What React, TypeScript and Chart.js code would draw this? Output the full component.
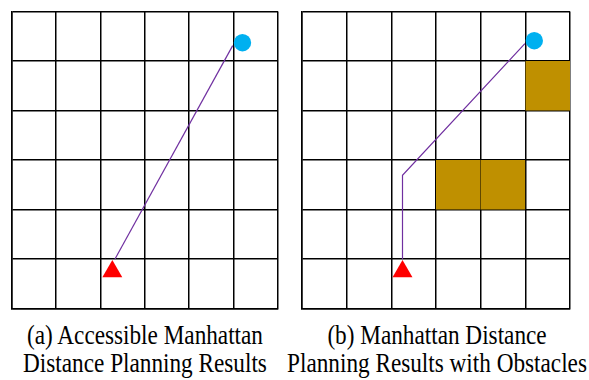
import React, { useEffect, useRef } from "react";
import { Chart, registerables } from "chart.js";

Chart.register(...registerables);

// Grid tick values (6 x 6 cells)
const gridTicks = [0, 1, 2, 3, 4, 5, 6];

// (a) Accessible Manhattan distance planning
const pathAX = [2.33, 4.98];
const pathAY = [1.0, 5.31];
const startA = [2.27, 0.75];
const goalA = [5.2, 5.37];

// (b) Manhattan distance planning with obstacles
const pathBX = [2.25, 2.25, 4.99];
const pathBY = [1.0, 2.69, 5.35];
const startB = [2.25, 0.75];
const goalB = [5.2, 5.41];
// obstacle cells: lower-left corner (column, row)
const obstacleCol = [5, 3, 4];
const obstacleRow = [4, 2, 2];

const captionA = ["(a) Accessible Manhattan", "Distance Planning Results"];
const captionB = ["(b) Manhattan Distance", "Planning Results with Obstacles"];

const PATH_COLOR = "#7030A0";
const START_COLOR = "#FF0000";
const GOAL_COLOR = "#00B0F0";
const OBSTACLE_COLOR = "#BF9000";

function buildDatasets(px: number[], py: number[], start: number[], goal: number[], withObstacles: boolean) {
  const ds: any[] = [];
  if (withObstacles) {
    obstacleCol.forEach((c, i) => {
      const r = obstacleRow[i];
      ds.push({
        data: [
          { x: c, y: r + 1 },
          { x: c + 1, y: r + 1 },
        ],
        fill: { value: r },
        backgroundColor: OBSTACLE_COLOR,
        borderWidth: 0,
        borderColor: "rgba(0,0,0,0)",
        pointRadius: 0,
        tension: 0,
      });
    });
  }
  ds.push({
    data: px.map((x, i) => ({ x, y: py[i] })),
    borderColor: PATH_COLOR,
    borderWidth: 1.2,
    pointRadius: 0,
    fill: false,
    tension: 0,
  });
  ds.push({
    data: [{ x: start[0], y: start[1] }],
    showLine: false,
    pointStyle: "triangle",
    pointRadius: 11.5,
    pointBackgroundColor: START_COLOR,
    pointBorderWidth: 0,
    pointBorderColor: START_COLOR,
  });
  ds.push({
    data: [{ x: goal[0], y: goal[1] }],
    showLine: false,
    pointStyle: "circle",
    pointRadius: 8.7,
    pointBackgroundColor: GOAL_COLOR,
    pointBorderWidth: 0,
    pointBorderColor: GOAL_COLOR,
  });
  return ds;
}

function axis() {
  return {
    type: "linear" as const,
    min: gridTicks[0],
    max: gridTicks[gridTicks.length - 1],
    z: 1,
    afterBuildTicks: (scale: any) => {
      scale.ticks = gridTicks.map((v) => ({ value: v }));
    },
    ticks: { display: false, stepSize: 1 },
    grid: { color: "#000", lineWidth: 1.5, drawTicks: false },
    border: { display: true, color: "#000", width: 1.5 },
  };
}

function GridChart(props: {
  width: number;
  height: number;
  padding: { left: number; right: number; top: number; bottom: number };
  datasets: any[];
}) {
  const ref = useRef<HTMLCanvasElement | null>(null);
  useEffect(() => {
    if (!ref.current) return;
    const chart = new Chart(ref.current, {
      type: "line",
      data: { datasets: props.datasets },
      options: {
        animation: false,
        responsive: false,
        devicePixelRatio: 1,
        layout: { padding: props.padding },
        plugins: { legend: { display: false }, tooltip: { enabled: false } },
        scales: { x: axis(), y: axis() } as any,
      },
    });
    return () => chart.destroy();
  }, []);
  return <canvas ref={ref} width={props.width} height={props.height} style={{ display: "block" }} />;
}

function Caption(props: { lines: string[]; center: number; top: number }) {
  const w = 400;
  return (
    <div
      style={{
        position: "absolute",
        left: props.center - w / 2,
        top: props.top,
        width: w,
        textAlign: "center",
        whiteSpace: "nowrap",
        fontFamily: '"Liberation Serif", "Times New Roman", serif',
        fontSize: 27,
        lineHeight: "28px",
        color: "#000",
        transform: "scaleX(0.86)",
        transformOrigin: "center top",
      }}
    >
      {props.lines.map((l, i) => (
        <div key={i}>{l}</div>
      ))}
    </div>
  );
}

export default function App() {
  return (
    <div
      style={{
        position: "absolute",
        left: 0,
        top: 0,
        width: 589,
        height: 380,
        overflow: "hidden",
        background: "#fff",
      }}
    >
      <div style={{ position: "absolute", left: 0, top: 0 }}>
        <GridChart
          width={290}
          height={320}
          padding={{ left: 11, right: 12, top: 10, bottom: 7 }}
          datasets={buildDatasets(pathAX, pathAY, startA, goalA, false)}
        />
      </div>
      <div style={{ position: "absolute", left: 290, top: 0 }}>
        <GridChart
          width={299}
          height={320}
          padding={{ left: 12, right: 19, top: 10, bottom: 8 }}
          datasets={buildDatasets(pathBX, pathBY, startB, goalB, true)}
        />
      </div>
      <Caption lines={captionA} center={144.5} top={321} />
      <Caption lines={captionB} center={436.5} top={321} />
    </div>
  );
}
